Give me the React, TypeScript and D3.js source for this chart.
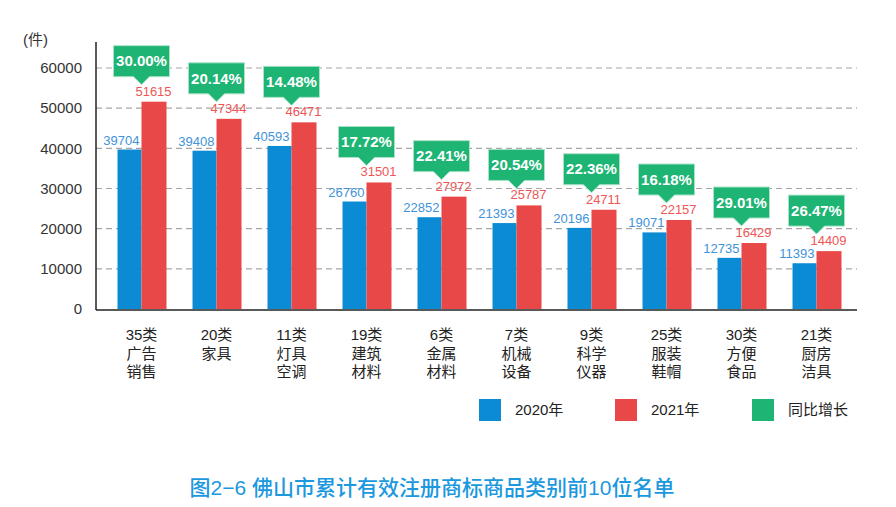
import * as d3 from "d3";

const codes = ["35类", "20类", "11类", "19类", "6类", "7类", "9类", "25类", "30类", "21类"];
const names = [
  ["广告", "销售"],
  ["家具"],
  ["灯具", "空调"],
  ["建筑", "材料"],
  ["金属", "材料"],
  ["机械", "设备"],
  ["科学", "仪器"],
  ["服装", "鞋帽"],
  ["方便", "食品"],
  ["厨房", "洁具"],
];
const v2020 = [39704, 39408, 40593, 26760, 22852, 21393, 20196, 19071, 12735, 11393];
const v2021 = [51615, 47344, 46471, 31501, 27972, 25787, 24711, 22157, 16429, 14409];
const growth = ["30.00%", "20.14%", "14.48%", "17.72%", "22.41%", "20.54%", "22.36%", "16.18%", "29.01%", "26.47%"];
const yTicks = [0, 10000, 20000, 30000, 40000, 50000, 60000];
const legendItems = ["2020年", "2021年", "同比增长"];

const BLUE = "#0a8bd3";
const RED = "#e94848";
const GREEN = "#1db474";
const FONT = "'Liberation Sans', Arial, 'Noto Sans CJK SC', sans-serif";

export default function App() {
  const width = 896;
  const height = 507;
  const left = 96;
  const right = 857;

  const x = d3.scaleBand<string>().domain(codes).range([104, 854]).padding(0);
  const y = d3.scaleLinear().domain([0, 60000]).range([309, 68]);
  const barW = 24;
  const boxW = 56;
  const boxH = 31;
  const tipH = 8;

  const cx = (i: number) => (x(codes[i]) ?? 0) + x.bandwidth() / 2;

  return (
    <div style={{ position: "fixed", left: 0, top: 0 }}>
      <svg width={width} height={height} style={{ display: "block", background: "#fff" }} fontFamily={FONT}>
        {/* grid */}
        {yTicks.filter((t) => t > 0).map((t) => (
          <line key={t} x1={left} x2={right} y1={y(t)} y2={y(t)} stroke="#a6a6a6" strokeWidth={1.2} strokeDasharray="6,4" />
        ))}
        {yTicks.map((t) => (
          <text key={t} x={82} y={y(t)} dy="0.35em" textAnchor="end" fontSize={15} fill="#333">
            {t}
          </text>
        ))}
        <text x={23} y={40} dy="0.35em" fontSize={15} fill="#333">(件)</text>

        {/* bars */}
        {codes.map((c, i) => (
          <g key={c}>
            <rect x={cx(i) - barW} y={y(v2020[i])} width={barW} height={y(0) - y(v2020[i])} fill={BLUE} />
            <rect x={cx(i)} y={y(v2021[i])} width={barW + 1} height={y(0) - y(v2021[i])} fill={RED} />
            <text x={cx(i) - 2} y={y(v2020[i]) - 5} textAnchor="end" fontSize={13} fill="#3f93da">
              {v2020[i]}
            </text>
            <text x={cx(i) + barW / 2} y={y(v2021[i]) - 6} textAnchor="middle" fontSize={13} fill="#ee5656">
              {v2021[i]}
            </text>
          </g>
        ))}

        {/* axes */}
        <line x1={left} x2={left} y1={y(66500)} y2={y(0) + 1} stroke="#222" strokeWidth={1.5} />
        <line x1={left} x2={right} y1={y(0) + 1} y2={y(0) + 1} stroke="#222" strokeWidth={1.5} />

        {/* callouts */}
        {codes.map((c, i) => {
          const tip = y(v2021[i]) - 17;
          const bottom = tip - tipH;
          const top = bottom - boxH;
          const mx = cx(i);
          return (
            <g key={c}>
              <path
                d={`M${mx - boxW / 2},${top}H${mx + boxW / 2}V${bottom}H${mx + 8}L${mx},${tip}L${mx - 8},${bottom}H${mx - boxW / 2}Z`}
                fill={GREEN}
                stroke="#a9e2c6"
                strokeWidth={1}
              />
              <text x={mx} y={(top + bottom) / 2} dy="0.35em" textAnchor="middle" fontSize={15} fontWeight="bold" fill="#fff">
                {growth[i]}
              </text>
            </g>
          );
        })}

        {/* category labels */}
        {codes.map((c, i) => (
          <text key={c} x={cx(i)} y={340} textAnchor="middle" fontSize={15} fill="#222">
            <tspan x={cx(i)}>{c}</tspan>
            {names[i].map((n, k) => (
              <tspan key={k} x={cx(i)} y={340 + 18.5 * (k + 1)}>
                {n}
              </tspan>
            ))}
          </text>
        ))}

        {/* legend */}
        {legendItems.map((l, i) => {
          const lx = [479, 615, 752][i];
          return (
            <g key={l}>
              <rect x={lx} y={399} width={22} height={22} fill={[BLUE, RED, GREEN][i]} />
              <text x={lx + 36} y={410} dy="0.35em" fontSize={15} fill="#222">
                {l}
              </text>
            </g>
          );
        })}

        <text x={432} y={488} dy="0.35em" textAnchor="middle" fontSize={21} fontWeight={500} fill="#1b98de">
          图2−6 佛山市累计有效注册商标商品类别前10位名单
        </text>
      </svg>
    </div>
  );
}
